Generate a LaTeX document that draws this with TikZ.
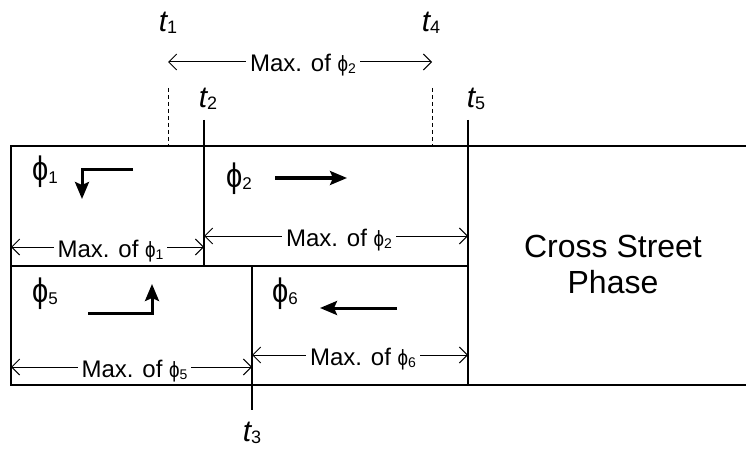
\documentclass[tikz,border=0pt]{standalone}
\usepackage{fontspec}
\setmainfont{Liberation Sans}
\usetikzlibrary{arrows.meta}
\newcommand{\tlab}[1]{{\fontsize{30}{30}\selectfont\itshape t}\raisebox{-2pt}{\fontsize{18}{18}\selectfont #1}}
\newcommand{\phlab}[1]{\scalebox{0.85}[1]{\fontsize{34}{34}\selectfont ϕ}\raisebox{-2pt}{\fontsize{17}{17}\selectfont #1}}
\newcommand{\maxof}[1]{Max. of \scalebox{0.85}[1]{\fontsize{22}{22}\selectfont ϕ}\raisebox{-2pt}{\fontsize{14}{14}\selectfont #1}}
\tikzset{
  border/.style={line width=2pt},
  dim/.style={line width=1pt,{Straight Barb[length=8pt,width=16pt]}-{Straight Barb[length=8pt,width=16pt]}},
  guide/.style={line width=0.8pt,dash pattern=on 4pt off 3pt},
  move/.style={line width=3pt,-{Stealth[length=17pt,width=14pt,inset=3pt]}},
  lab/.style={font=\fontsize{24}{24}\selectfont,fill=white,inner xsep=4pt,inner ysep=1pt,anchor=base,yshift=-10pt,xshift=3pt},
  tl/.style={anchor=base,inner sep=0pt},
  pl/.style={anchor=base west,inner sep=0pt}
}
\begin{document}
\begin{tikzpicture}[x=1pt,y=-1pt]
\useasboundingbox (0,0) rectangle (746,449);
% frame
\coordinate (TL) at (11,146);
\coordinate (TR) at (746,146);
\coordinate (BL) at (11,385);
\coordinate (BR) at (746,385);
\coordinate (ML) at (11,266);
\coordinate (MR) at (468,266);
\draw[border] (TR) -- (TL) -- (BL) -- (BR);
\draw[border] (ML) -- (MR);
% time marks
\coordinate (t2a) at (204,120); \coordinate (t2b) at (204,266);
\coordinate (t5a) at (468,120); \coordinate (t5b) at (468,385);
\coordinate (t3a) at (252,266); \coordinate (t3b) at (252,410);
\coordinate (t1a) at (168,88);  \coordinate (t1b) at (168,146);
\coordinate (t4a) at (432,88);  \coordinate (t4b) at (432,146);
\draw[border] (t2a) -- (t2b);
\draw[border] (t5a) -- (t5b);
\draw[border] (t3a) -- (t3b);
\draw[guide] (t1a) -- (t1b);
\draw[guide] (t4a) -- (t4b);
\node[tl] (T1) at (168,32) {\tlab{1}};
\node[tl] (T4) at (431,32) {\tlab{4}};
\node[tl] (T2) at (208,108) {\tlab{2}};
\node[tl] (T5) at (476,108) {\tlab{5}};
\node[tl] (T3) at (252,441) {\tlab{3}};
% dimension arrows
\coordinate (d0a) at (168,62);  \coordinate (d0b) at (432,62);
\coordinate (d1a) at (11,247);  \coordinate (d1b) at (204,247);
\coordinate (d2a) at (204,236); \coordinate (d2b) at (468,236);
\coordinate (d5a) at (11,367);  \coordinate (d5b) at (252,367);
\coordinate (d6a) at (252,355); \coordinate (d6b) at (468,355);
\draw[dim] (d0a) -- node[lab] (L0) {\maxof{2}} (d0b);
\draw[dim] (d1a) -- node[lab] (L1) {\maxof{1}} (d1b);
\draw[dim] (d2a) -- node[lab] (L2) {\maxof{2}} (d2b);
\draw[dim] (d5a) -- node[lab] (L5) {\maxof{5}} (d5b);
\draw[dim] (d6a) -- node[lab] (L6) {\maxof{6}} (d6b);
% phase labels
\node[pl] (P1) at (32,181) {\phlab{1}};
\node[pl] (P2) at (226,187) {\phlab{2}};
\node[pl] (P5) at (32,302) {\phlab{5}};
\node[pl] (P6) at (272,302) {\phlab{6}};
% movement arrows
\coordinate (a1s) at (133,170); \coordinate (a1c) at (82,170); \coordinate (a1e) at (82,199);
\coordinate (a2s) at (275,178); \coordinate (a2e) at (347,178);
\coordinate (a5s) at (88,313);  \coordinate (a5c) at (152,313); \coordinate (a5e) at (152,284);
\coordinate (a6s) at (397,308); \coordinate (a6e) at (320,308);
\draw[move] (a1s) -- (a1c) -- (a1e);
\draw[move] (a2s) -- (a2e);
\draw[move] (a5s) -- (a5c) -- (a5e);
\draw[move] (a6s) -- (a6e);
% cross street
\node[align=center,font=\fontsize{32}{36}\selectfont,inner sep=0pt] (CS) at (613,264) {Cross Street\\Phase};
\end{tikzpicture}
\end{document}
